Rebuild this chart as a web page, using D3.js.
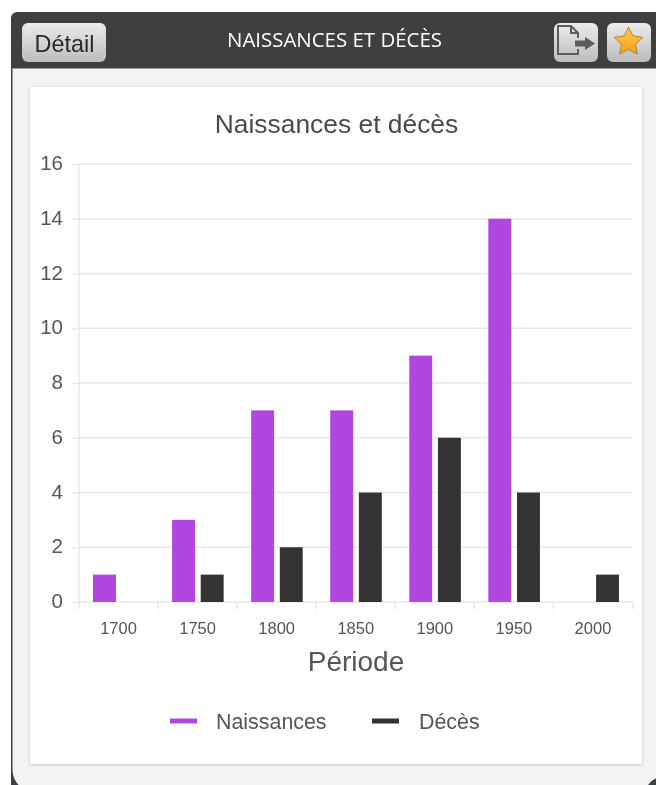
<!DOCTYPE html>
<html>
<head>
<meta charset="utf-8">
<script src="https://cdn.jsdelivr.net/npm/d3@7"></script>
<style>
  html, body { margin: 0; padding: 0; background: #fff; overflow: hidden; }
  svg { display: block; font-family: "Liberation Sans", Arial, sans-serif; filter: blur(0.45px); }
</style>
</head>
<body>
<svg id="chart" width="656" height="785"></svg>
<script>
(function() {
  const periods = ['1700', '1750', '1800', '1850', '1900', '1950', '2000'];
  const naissances = [1, 3, 7, 7, 9, 14, 0];
  const deces = [0, 1, 2, 4, 6, 4, 1];
  const yTicks = [0, 2, 4, 6, 8, 10, 12, 14, 16];
  const seriesNames = ['Naissances', 'Décès'];
  const seriesColors = ['#b246e2', '#333333'];

  const svg = d3.select('#chart');
  const defs = svg.append('defs');

  // BUTTON GRADIENT
  const btnGrad = defs.append('linearGradient').attr('id', 'btn_grad')
    .attr('x1', 0).attr('y1', 0).attr('x2', 0).attr('y2', 1);
  btnGrad.append('stop').attr('offset', '0%').attr('stop-color', '#ececec');
  btnGrad.append('stop').attr('offset', '100%').attr('stop-color', '#bcbcbc');

  const starGrad = defs.append('linearGradient').attr('id', 'star_grad')
    .attr('x1', 0).attr('y1', 0).attr('x2', 0).attr('y2', 1);
  starGrad.append('stop').attr('offset', '0%').attr('stop-color', '#fdc94a');
  starGrad.append('stop').attr('offset', '100%').attr('stop-color', '#f6a01a');

  const shadow = defs.append('filter').attr('id', 'card_shadow')
    .attr('x', '-5%').attr('y', '-5%').attr('width', '110%').attr('height', '110%');
  shadow.append('feDropShadow').attr('dx', 0).attr('dy', 1).attr('stdDeviation', 1.6)
    .attr('flood-color', '#000').attr('flood-opacity', 0.2);

  // WINDOW SHELL
  svg.append('rect').attr('x', 11).attr('y', 12).attr('width', 660).attr('height', 790)
    .attr('rx', 6).attr('fill', '#3b4247');
  svg.append('path')
    .attr('d', 'M12.5,68 H660 V777 Q650,779 646,789 H24 Q13,783 12.5,770 Z')
    .attr('fill', '#f3f3f3');
  svg.append('path')
    .attr('d', 'M12,68 V19 Q12,14 18,14 H660 V68 Z')
    .attr('fill', '#3f3f3f');
  svg.append('rect').attr('x', 12).attr('y', 68).attr('width', 648).attr('height', 1).attr('fill', '#9a9a9a');

  // HEADER
  const button = (bx, w) => svg.append('rect').attr('x', bx).attr('y', 23).attr('width', w).attr('height', 39)
    .attr('rx', 6).attr('fill', 'url(#btn_grad)');
  button(22, 84);
  svg.append('text').attr('x', 64.5).attr('y', 52).attr('text-anchor', 'middle')
    .attr('font-size', 23.4).attr('fill', '#2a2a2a').text('Détail');
  svg.append('text').attr('x', 334.5).attr('y', 47).attr('text-anchor', 'middle')
    .attr('font-family', '"Open Sans", sans-serif').attr('font-size', 20)
    .attr('textLength', 215).attr('lengthAdjust', 'spacingAndGlyphs')
    .attr('fill', '#fff').text('NAISSANCES ET DÉCÈS');

  button(554, 44);
  svg.append('path')
    .attr('d', 'M578,38 V33 L571,26 H558 V54 H578 V49 M571,26 V33 H578')
    .attr('fill', 'none').attr('stroke', '#5c5c5c').attr('stroke-width', 2);
  svg.append('path')
    .attr('d', 'M575,40.5 H585 V37 L595,43.5 L585,50 V46.5 H575 Z')
    .attr('fill', '#5c5c5c');

  button(607, 44);
  const starPts = d3.range(10).map(i => {
    const r = i % 2 ? 7.5 : 15;
    const a = -Math.PI / 2 + i * Math.PI / 5;
    return [628.5 + r * Math.cos(a), 42 + r * Math.sin(a)];
  });
  svg.append('polygon').attr('points', starPts.join(' '))
    .attr('fill', 'url(#star_grad)').attr('stroke', '#a98a3e').attr('stroke-width', 1);

  // CARD
  svg.append('rect').attr('x', 30).attr('y', 87).attr('width', 612).attr('height', 677)
    .attr('fill', '#fff').attr('filter', 'url(#card_shadow)');

  svg.append('text').attr('x', 336.5).attr('y', 133).attr('text-anchor', 'middle')
    .attr('font-size', 26.4).attr('fill', '#4a4a4a').text('Naissances et décès');

  // SCALES
  const x = d3.scaleBand().domain(periods).range([79, 632.5]);
  const inner = d3.scaleBand().domain(seriesNames)
    .range([14, x.bandwidth() - 13.5]).paddingInner(0.2);
  const y = d3.scaleLinear().domain([0, 16]).range([602, 164]);

  // Y AXIS
  const yAxis = d3.axisLeft(y).tickValues(yTicks).tickSize(7).tickPadding(9);
  const yG = svg.append('g').attr('transform', 'translate(79,0)').call(yAxis);
  yG.select('.domain').remove();
  yG.selectAll('.tick line').attr('stroke', '#e8e8e8').attr('stroke-width', 1.5);
  yG.selectAll('.tick text').attr('font-size', 20.5).attr('font-family', 'inherit')
    .attr('dy', '0.27em').attr('fill', '#555');

  svg.append('g').selectAll('line').data(yTicks).enter().append('line')
    .attr('x1', 79).attr('x2', 632.5)
    .attr('y1', d => y(d)).attr('y2', d => y(d))
    .attr('stroke', '#e8e8e8').attr('stroke-width', 1.5);

  svg.append('line').attr('x1', 79).attr('x2', 79).attr('y1', 164).attr('y2', 609)
    .attr('stroke', '#e8e8e8').attr('stroke-width', 1.5);

  // X AXIS
  const xAxis = d3.axisBottom(x).tickSize(0).tickPadding(20);
  const xG = svg.append('g').attr('transform', 'translate(0,602)').call(xAxis);
  xG.select('.domain').remove();
  xG.selectAll('.tick text').attr('font-size', 16.5).attr('font-family', 'inherit').attr('fill', '#555');

  svg.append('g').selectAll('line').data(periods.slice(1).concat('end')).enter().append('line')
    .attr('x1', d => d === 'end' ? 632.5 : x(d)).attr('x2', d => d === 'end' ? 632.5 : x(d))
    .attr('y1', 602).attr('y2', 609)
    .attr('stroke', '#e8e8e8').attr('stroke-width', 1.5);

  // BARS
  [naissances, deces].forEach((values, s) => {
    svg.append('g').selectAll('rect').data(values).enter().append('rect')
      .attr('x', (d, i) => x(periods[i]) + inner(seriesNames[s]))
      .attr('y', d => y(d))
      .attr('width', inner.bandwidth())
      .attr('height', d => y(0) - y(d))
      .attr('fill', seriesColors[s]);
  });

  svg.append('text').attr('x', 356).attr('y', 671).attr('text-anchor', 'middle')
    .attr('font-size', 28).attr('fill', '#555').text('Période');

  // LEGEND
  const legendX = [170, 372];
  seriesNames.forEach((name, s) => {
    svg.append('rect').attr('x', legendX[s]).attr('y', 718.5).attr('width', 27).attr('height', 5)
      .attr('fill', seriesColors[s]);
    svg.append('text').attr('x', legendX[s] + (s ? 47 : 46)).attr('y', 729)
      .attr('font-size', 21.4).attr('fill', '#555').text(name);
  });
})();
</script>
</body>
</html>
